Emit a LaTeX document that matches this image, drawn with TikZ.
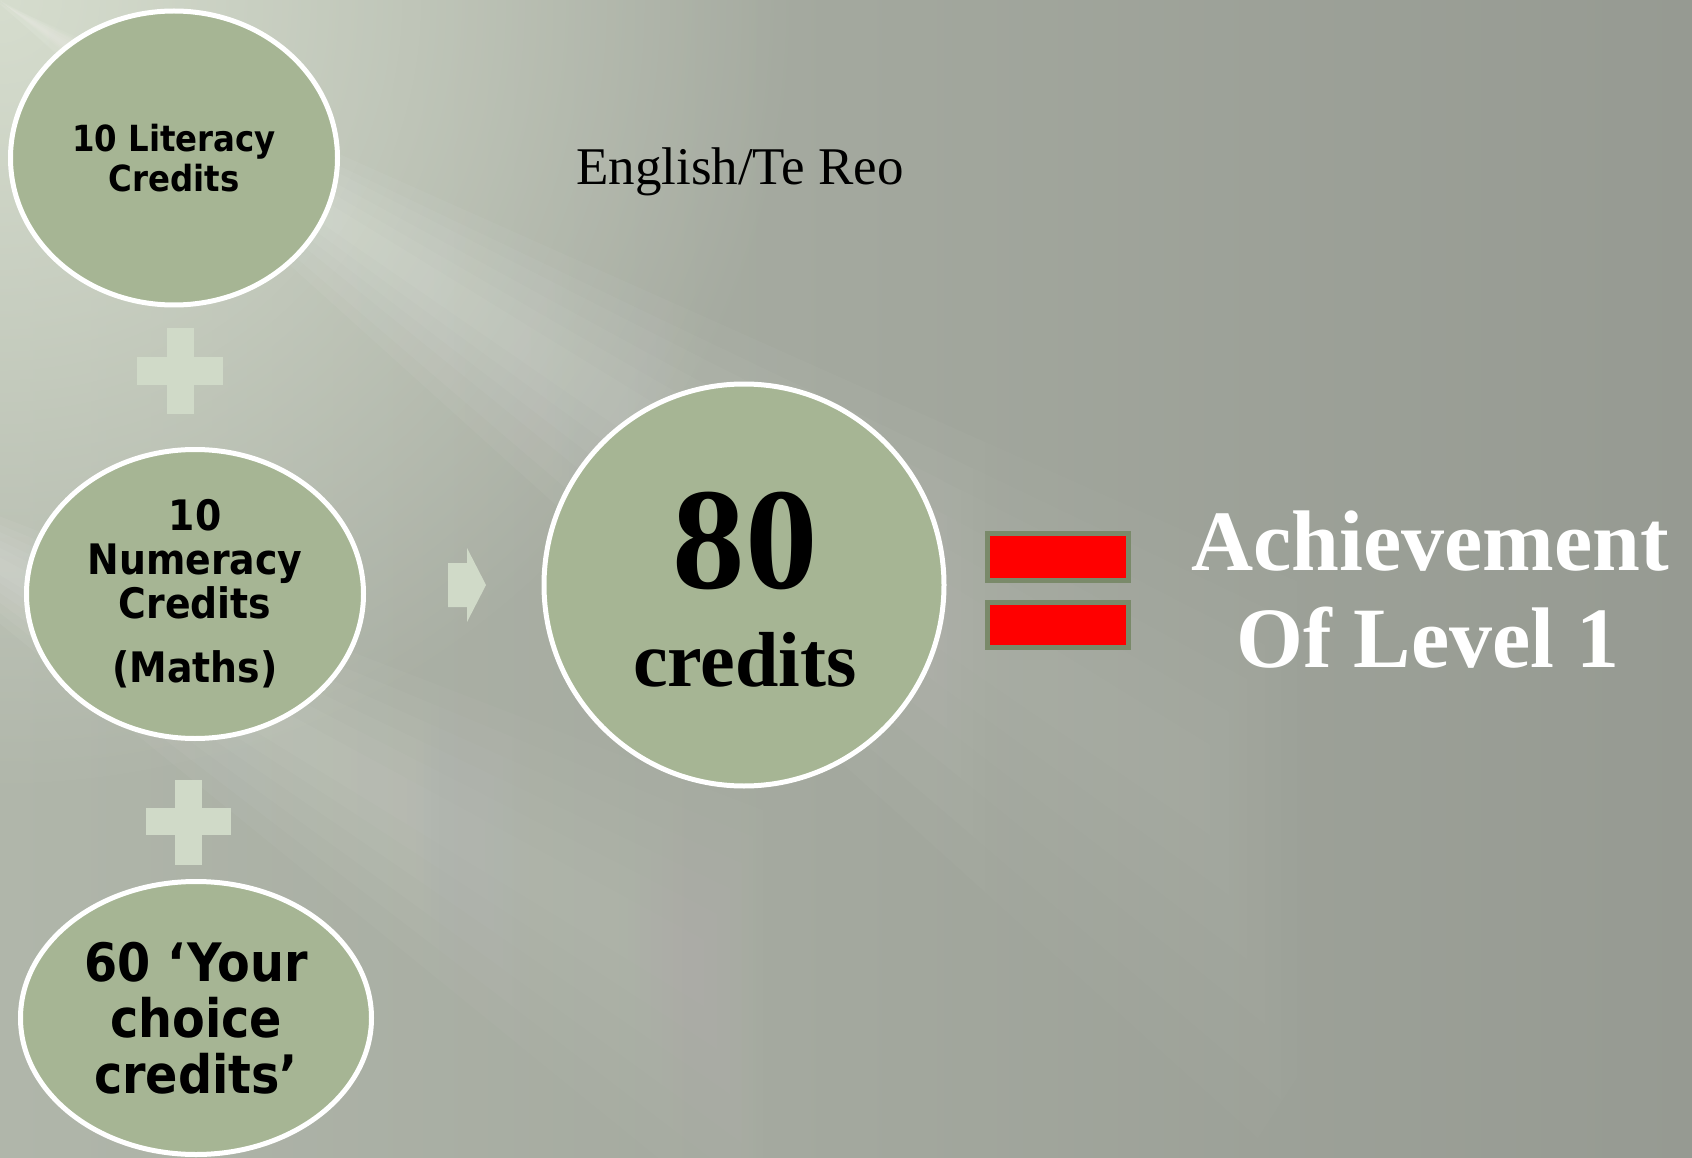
\documentclass[tikz,border=0pt]{standalone}
\usepackage{fontspec}
\setmainfont{Liberation Serif}
\newfontfamily\lucsans[FakeStretch=0.9]{DejaVu Sans}
\usetikzlibrary{shapes.geometric,fadings}
\definecolor{bubblefill}{HTML}{A6B594}
\definecolor{pluscol}{HTML}{D0DAC8}
\definecolor{barborder}{HTML}{7A8A6A}
\definecolor{bgL}{HTML}{B0B6AA}
\definecolor{bgR}{HTML}{969A92}
\definecolor{bgHi}{HTML}{D6DDCE}
\tikzfading[name=radfade, inner color=transparent!0, outer color=transparent!100]
\tikzfading[name=streakfade, left color=transparent!0, right color=transparent!100]
\begin{document}
\begin{tikzpicture}[x=1pt,y=-1pt,
  bubble/.style={ellipse, draw=white, line width=5pt, fill=bubblefill, inner sep=0pt, align=center, text=black},
  plusbar/.style={fill=pluscol},
  eqbar/.style={rectangle, draw=barborder, line width=5pt, fill=red, minimum width=141pt, inner sep=0pt},
  serifbig/.style={anchor=base, inner sep=0pt},
  ray/.style={white, opacity=0.06, path fading=streakfade}
]
\useasboundingbox (0,0) rectangle (1692,1158);
% background
\begin{scope}
\clip (0,0) rectangle (1692,1158);
\shade[left color=bgL, right color=bgR] (0,0) rectangle (1692,1158);
\fill[bgHi, path fading=radfade] (-800,-800) rectangle (800,800);
\foreach \w in {1.5,3,4.5,6,7.5,9}{
  \fill[ray] (0,0) -- (33-\w:1700) -- (33+\w:1700) -- cycle;
  \fill[ray] (-250,420) -- ([shift={(-250,420)}]30-\w:1300) -- ([shift={(-250,420)}]30+\w:1300) -- cycle;
}
\end{scope}
% left bubbles
\node[bubble, minimum width=327pt, minimum height=294pt,
      font=\lucsans\bfseries\fontsize{36}{40}\selectfont] (lit) at (174,158) {10 Literacy\\Credits};
\node[bubble, minimum width=337pt, minimum height=289pt,
      font=\lucsans\bfseries\fontsize{42}{44}\selectfont] (num) at (195,594) {10\\Numeracy\\Credits\\[20pt](Maths)};
\node[bubble, minimum width=351pt, minimum height=273pt,
      font=\lucsans\bfseries\fontsize{53}{56}\selectfont] (yc) at (196,1018) {60 ‘Your\\choice\\credits’};
% plus signs
\fill[plusbar] (167,328) rectangle (194,414);
\fill[plusbar] (137,357) rectangle (223,385);
\fill[plusbar] (175,780) rectangle (202,865);
\fill[plusbar] (146,808) rectangle (231,835);
% arrow
\fill[plusbar] (448,563) -- (467,563) -- (467,548) -- (486,585) -- (467,622) -- (467,607) -- (448,607) -- cycle;
% big circle
\node[bubble, minimum width=400pt, minimum height=402pt] (tot) at (744,585) {};
\node[serifbig, font=\bfseries\fontsize{145}{145}\selectfont] (n80) at (745,588) {80};
\node[serifbig, font=\bfseries\fontsize{78}{78}\selectfont] (ncred) at (745,686) {credits};
% equals
\node[eqbar, minimum height=47pt] (eq1) at (1058,557) {};
\node[eqbar, minimum height=45pt] (eq2) at (1058,625) {};
% result
\node[serifbig, text=white, font=\bfseries\fontsize{86}{97}\selectfont] (ach1) at (1430,570) {Achievement};
\node[serifbig, text=white, font=\bfseries\fontsize{86}{97}\selectfont] (ach2) at (1428,667) {Of Level 1};
% label
\node[serifbig, font=\fontsize{53}{57}\selectfont] (eng) at (740,185) {English/Te Reo};
\end{tikzpicture}
\end{document}
